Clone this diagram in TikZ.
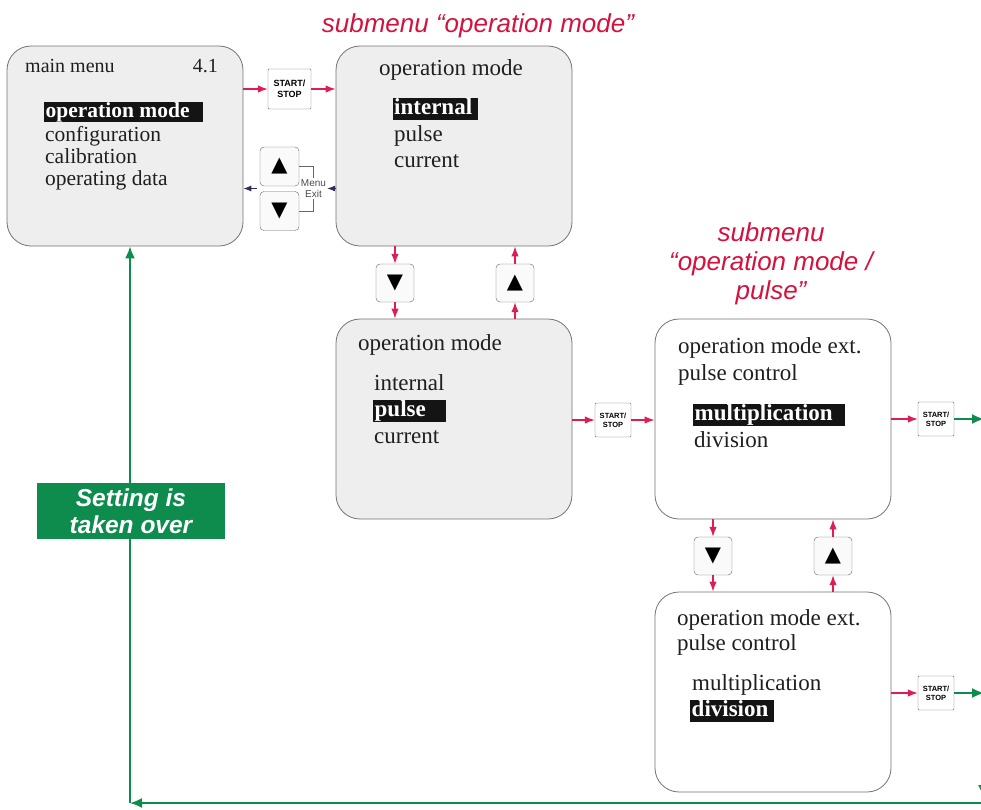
\documentclass[tikz,border=0pt]{standalone}
\usepackage{fontspec}
\setmainfont{Liberation Serif}
\setsansfont{Liberation Sans}
\newfontfamily\symfont{DejaVu Sans}
\usepackage{xcolor}
\usepackage{tikz}
\usetikzlibrary{arrows.meta,positioning}
\definecolor{keyred}{RGB}{222, 30, 82}
\definecolor{titlered}{RGB}{212, 18, 62}
\definecolor{takegreen}{RGB}{14, 140, 78}
\definecolor{exitnavy}{RGB}{46, 44, 92}
\definecolor{screengray}{RGB}{238, 238, 238}

\begin{document}
\begin{tikzpicture}[x=1pt, y=-1pt,
    screen/.style={draw=black!55, line width=0.8pt, rounded corners=24pt, fill=screengray, minimum width=236pt, minimum height=200pt},
    plainscreen/.style={screen, fill=white},
    lcd/.style={anchor=base west, inner sep=0pt, text=black!88, font=\fontsize{23}{26}\selectfont},
    lcdmain/.style={lcd, font=\fontsize{21.5}{24}\selectfont},
    sel/.style={anchor=base west, fill=black!92, text=white, inner xsep=1.5pt, inner ysep=0.5pt, text height=16pt, text depth=5pt, font=\bfseries\fontsize{23}{26}\selectfont},
    selmain/.style={sel, text height=14.5pt, text depth=4.5pt, font=\bfseries\fontsize{21.5}{24}\selectfont},
    keybtn/.style={draw=black!60, fill=black!2, rounded corners=4pt, minimum size=38pt, inner sep=0pt, font=\symfont\fontsize{21}{21}\selectfont},
    startbtn/.style={draw=black!60, fill=white, rounded corners=1pt, align=center, inner sep=0pt, minimum width=36pt, minimum height=34pt, font=\sffamily\bfseries\fontsize{7.5}{9}\selectfont},
    title/.style={text=titlered, align=center, font=\sffamily\itshape\fontsize{26}{29}\selectfont},
    redarrow/.style={-{Latex[length=10pt,width=7.5pt]}, keyred, line width=1.3pt},
    greenarrow/.style={-{Latex[length=12pt,width=10pt]}, takegreen, line width=1.8pt},
    navyarrow/.style={-{Latex[length=8pt,width=6pt]}, exitnavy, line width=0.9pt}]
    \useasboundingbox (0,0) rectangle (981,809);

    % titles
    \node[title, anchor=base] (title1) at (478,32) {submenu “operation mode”};
    \node[title] (title2) at (771,264) {submenu\\“operation mode /\\pulse”};

    % screens
    \node[screen] (main) at (125,146) {};
    \node[screen] (opm1) at (454,146) {};
    \node[screen] (opm2) at (454,419) {};
    \node[plainscreen] (pul1) at (773,419) {};
    \node[plainscreen] (pul2) at (773,692) {};

    % main menu text
    \node[lcd, font=\fontsize{20}{22}\selectfont] (mmhead) at (25,72) {main menu};
    \node[lcd, anchor=base east, font=\fontsize{20}{22}\selectfont] (mmver) at (218,72) {4.1};
    \node[selmain] (mmsel) at (44,117) {operation mode\kern12pt};
    \node[lcdmain] (mmconf) at (45,141) {configuration};
    \node[lcdmain] (mmcal) at (45,163) {calibration};
    \node[lcdmain] (mmdata) at (45,185) {operating data};

    % operation mode, internal selected
    \node[lcd] (om1head) at (379,75) {operation mode};
    \node[sel] (om1sel) at (392.5,114) {internal\kern4pt};
    \node[lcd] (om1pulse) at (394,141) {pulse};
    \node[lcd] (om1cur) at (394,167) {current};

    % operation mode, pulse selected
    \node[lcd] (om2head) at (358,350) {operation mode};
    \node[lcd] (om2int) at (374,390) {internal};
    \node[sel] (om2sel) at (373,416) {pulse\kern19pt};
    \node[lcd] (om2cur) at (374,443) {current};

    % pulse control, multiplication selected
    \node[lcd] (pc1head) at (678,353) {operation mode ext.};
    \node[lcd] (pc1sub) at (678,380) {pulse control};
    \node[sel] (pc1sel) at (693,420) {multiplication\kern11pt};
    \node[lcd] (pc1div) at (694,447) {division};

    % pulse control, division selected
    \node[lcd] (pc2head) at (677,625) {operation mode ext.};
    \node[lcd] (pc2sub) at (677,650) {pulse control};
    \node[lcd] (pc2mul) at (692,690) {multiplication};
    \node[sel] (pc2sel) at (690,716) {division\kern4pt};

    % keys
    \node[startbtn, minimum width=43pt, minimum height=40pt, font=\sffamily\bfseries\fontsize{9}{11}\selectfont] (ss1) at (289.5,89) {START/\\STOP};
    \node[startbtn] (ss2) at (613,420) {START/\\STOP};
    \node[startbtn] (ss3) at (936,419) {START/\\STOP};
    \node[startbtn] (ss4) at (936,693) {START/\\STOP};
    \node[keybtn, minimum size=39pt] (upb) at (279.5,166.5) {▲};
    \node[keybtn, minimum size=39pt] (dnb) at (279.5,211) {▼};
    \node[keybtn] (d1) at (395,283) {▼};
    \node[keybtn] (u1) at (515,283) {▲};
    \node[keybtn] (d2) at (713,556) {▼};
    \node[keybtn] (u2) at (833,556) {▲};
    \node[align=center, inner sep=1pt, text=black!70, font=\sffamily\fontsize{10}{11}\selectfont] (exitlbl) at (313.5,188.5) {Menu\\Exit};

    % red key arrows
    \draw[redarrow] (ss1.west -| main.east) -- (ss1.west);
    \draw[redarrow] (ss1.east) -- (ss1.east -| opm1.west);
    \draw[redarrow] (opm1.south -| d1) -- (d1.north);
    \draw[redarrow] (d1.south) -- (d1.south |- opm2.north);
    \draw[redarrow] (opm2.north -| u1) -- (u1.south);
    \draw[redarrow] (u1.north) -- (u1.north |- opm1.south);
    \draw[redarrow] (ss2.west -| opm2.east) -- (ss2.west);
    \draw[redarrow] (ss2.east) -- (ss2.east -| pul1.west);
    \draw[redarrow] (pul1.south -| d2) -- (d2.north);
    \draw[redarrow] (d2.south) -- (d2.south |- pul2.north);
    \draw[redarrow] (pul2.north -| u2) -- (u2.south);
    \draw[redarrow] (u2.north) -- (u2.north |- pul1.south);
    \draw[redarrow] (ss3.west -| pul1.east) -- (ss3.west);
    \draw[redarrow] (ss4.west -| pul2.east) -- (ss4.west);

    % menu exit
    \draw[black!60, line width=0.5pt] (upb.east) -| (exitlbl.north);
    \draw[black!60, line width=0.5pt] (dnb.east) -| (exitlbl.south);
    \draw[navyarrow] (exitlbl.east -| opm1.west) -- (exitlbl.east);
    \draw[navyarrow] ([xshift=-3pt]exitlbl.west -| upb.west) -- (exitlbl.west -| main.east);

    % setting is taken over
    \coordinate (out3) at (984,419);
    \coordinate (out4) at (984,693);
    \coordinate (rtop) at (983,770);
    \coordinate (rbot) at (983,797);
    \coordinate (loopr) at (990,803);
    \coordinate (loopc) at (130,803);
    \draw[greenarrow] (ss3.east) -- (out3);
    \draw[greenarrow] (ss4.east) -- (out4);
    \draw[greenarrow] (rtop) -- (rbot);
    \draw[greenarrow] (loopr) -- (loopc);
    \draw[greenarrow] (loopc) -- (loopc |- main.south);
    \node[fill=takegreen, text=white, align=center, inner sep=0pt, minimum width=188pt, minimum height=56pt, font=\sffamily\bfseries\itshape\fontsize{24.5}{27}\selectfont] (taken) at (131,511) {Setting is\\taken over};
\end{tikzpicture}
\end{document}
